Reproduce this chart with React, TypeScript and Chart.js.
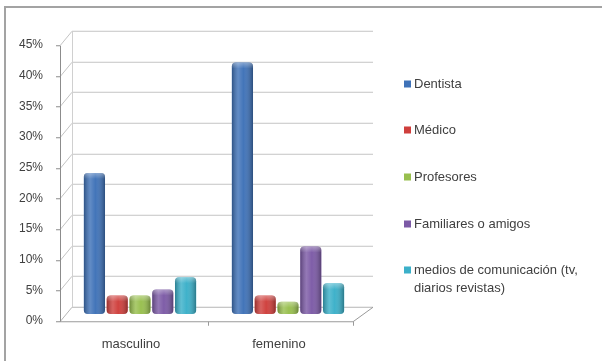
import React, { useEffect, useRef } from "react";
import { Chart, registerables } from "chart.js";

Chart.register(...registerables);

const categories = ["masculino", "femenino"];
const seriesNames = [
  "Dentista",
  "Médico",
  "Profesores",
  "Familiares o amigos",
  "medios de comunicación (tv,\ndiarios revistas)",
];
const dentista = [23, 41];
const medico = [3, 3];
const profesores = [3, 2];
const familiares = [4, 11];
const medios = [6, 5];
const seriesColors = ["#3f72b8", "#cf3f3c", "#98bf4e", "#7c5aa6", "#3bb0c9"];
const yTicks = [0, 5, 10, 15, 20, 25, 30, 35, 40, 45];

const FONT = "'Liberation Sans', Arial, sans-serif";
const DX = 6;
const DY = 7.25;

const wallsPlugin = {
  id: "walls",
  beforeDraw(chart: any) {
    const { ctx } = chart;
    ctx.save();
    ctx.fillStyle = "#ffffff";
    ctx.fillRect(0, 0, chart.width, chart.height);
    ctx.strokeStyle = "#a3a3a3";
    ctx.lineWidth = 2;
    ctx.beginPath();
    ctx.moveTo(5, chart.height);
    ctx.lineTo(5, 7);
    ctx.lineTo(chart.width, 7);
    ctx.stroke();
    ctx.restore();
  },
  beforeDatasetsDraw(chart: any) {
    const { ctx, chartArea, scales } = chart;
    const y = scales.y;
    const L = chartArea.left;
    const R = chartArea.right;
    ctx.save();
    ctx.lineWidth = 1;
    // back wall & left wall grid lines
    yTicks.forEach((v) => {
      const ym = Math.round(y.getPixelForValue(v)) + 0.5;
      ctx.strokeStyle = v === 0 ? "#b5b5b5" : "#c4c4c4";
      ctx.beginPath();
      ctx.moveTo(L - DX, ym + DY);
      ctx.lineTo(L + DX, ym - DY);
      ctx.lineTo(R + 11, ym - DY);
      ctx.stroke();
      // small tick on front axis
      ctx.strokeStyle = "#8c8c8c";
      ctx.beginPath();
      ctx.moveTo(L - DX - 4, ym + DY);
      ctx.lineTo(L - DX, ym + DY);
      ctx.stroke();
    });
    const y0 = Math.round(y.getPixelForValue(0)) + 0.5;
    const yTop = Math.round(y.getPixelForValue(45)) + 0.5;
    // front vertical axis
    ctx.strokeStyle = "#8c8c8c";
    ctx.beginPath();
    ctx.moveTo(L - DX + 0.5, yTop + DY);
    ctx.lineTo(L - DX + 0.5, y0 + DY);
    ctx.stroke();
    // back-left vertical edge
    ctx.strokeStyle = "#d0d0d0";
    ctx.beginPath();
    ctx.moveTo(L + DX + 0.5, yTop - DY);
    ctx.lineTo(L + DX + 0.5, y0 - DY);
    ctx.stroke();
    // floor
    ctx.strokeStyle = "#9a9a9a";
    ctx.beginPath();
    ctx.moveTo(L - DX, y0 + DY);
    ctx.lineTo(R - 9, y0 + DY);
    ctx.lineTo(R + 11, y0 - DY);
    ctx.stroke();
    // category separators ticks
    const x = scales.x;
    const mid = (x.getPixelForValue(0) + x.getPixelForValue(1)) / 2 - DX;
    [Math.round(mid) + 0.5, R - 9 + 0.5].forEach((px) => {
      ctx.beginPath();
      ctx.moveTo(px, y0 + DY);
      ctx.lineTo(px, y0 + DY + 4);
      ctx.stroke();
    });
    ctx.restore();
  },
  afterDatasetsDraw(chart: any) {
    const { ctx } = chart;
    ctx.save();
    chart.data.datasets.forEach((_: any, di: number) => {
      const meta = chart.getDatasetMeta(di);
      meta.data.forEach((bar: any) => {
        const w = bar.width;
        const left = bar.x - w / 2;
        const top = bar.y;
        const h = bar.base - bar.y;
        const r = Math.min(4, w / 2, h / 2);
        ctx.save();
        ctx.beginPath();
        ctx.roundRect(left, top, w, h, r);
        ctx.clip();
        const g = ctx.createLinearGradient(left, 0, left + w, 0);
        g.addColorStop(0, "rgba(0,0,0,0.28)");
        g.addColorStop(0.3, "rgba(255,255,255,0.18)");
        g.addColorStop(0.55, "rgba(255,255,255,0.02)");
        g.addColorStop(1, "rgba(0,0,0,0.32)");
        ctx.fillStyle = g;
        ctx.fillRect(left, top, w, h);
        const g2 = ctx.createLinearGradient(0, top, 0, top + 6);
        g2.addColorStop(0, "rgba(255,255,255,0.35)");
        g2.addColorStop(1, "rgba(255,255,255,0)");
        ctx.fillStyle = g2;
        ctx.fillRect(left, top, w, 6);
        ctx.restore();
      });
    });
    ctx.restore();
  },
  afterDraw(chart: any) {
    const { ctx } = chart;
    ctx.save();
    ctx.font = `13px ${FONT}`;
    ctx.textBaseline = "middle";
    ctx.textAlign = "left";
    const ys = [84, 130, 177, 224, 270];
    seriesNames.forEach((name, i) => {
      const yy = ys[i];
      ctx.fillStyle = seriesColors[i];
      ctx.fillRect(404, yy - 3.5, 7, 7);
      ctx.fillStyle = "#404040";
      name.split("\n").forEach((line, li) => {
        ctx.fillText(line, 414, yy + li * 18);
      });
    });
    ctx.restore();
  },
};

export default function App() {
  const ref = useRef<HTMLCanvasElement>(null);
  useEffect(() => {
    const datasetsValues = [dentista, medico, profesores, familiares, medios];
    const chart = new Chart(ref.current!, {
      type: "bar",
      data: {
        labels: categories,
        datasets: datasetsValues.map((vals, i) => ({
          label: seriesNames[i],
          data: vals,
          backgroundColor: seriesColors[i],
          borderWidth: 0,
          borderRadius: 4,
          borderSkipped: false,
          categoryPercentage: 0.77,
          barPercentage: 0.93,
        })),
      },
      options: {
        responsive: false,
        animation: false,
        devicePixelRatio: 1,
        layout: { padding: { top: 38, right: 240, left: 0, bottom: 0 } },
        plugins: {
          legend: { display: false },
          tooltip: { enabled: false },
        },
        scales: {
          x: {
            grid: { display: false, drawTicks: false },
            border: { display: false },
            ticks: {
              color: "#404040",
              font: { family: FONT, size: 13 },
              padding: 23,
              labelOffset: -9,
              maxRotation: 0,
            },
            afterFit: (s: any) => {
              s.height = 47;
            },
          },
          y: {
            min: 0,
            max: 45,
            grid: { display: false, drawTicks: false },
            border: { display: false },
            ticks: {
              stepSize: 5,
              color: "#404040",
              font: { family: FONT, size: 12 },
              padding: 23,
              labelOffset: 7,
              callback: (v: any) => `${v}%`,
            },
            afterFit: (s: any) => {
              s.width = 66;
            },
          },
        },
      },
      plugins: [wallsPlugin],
    });
    return () => chart.destroy();
  }, []);
  return (
    <div style={{ position: "fixed", left: 0, top: 0, width: 602, height: 361 }}>
      <canvas ref={ref} width={602} height={361} style={{ display: "block" }} />
    </div>
  );
}
